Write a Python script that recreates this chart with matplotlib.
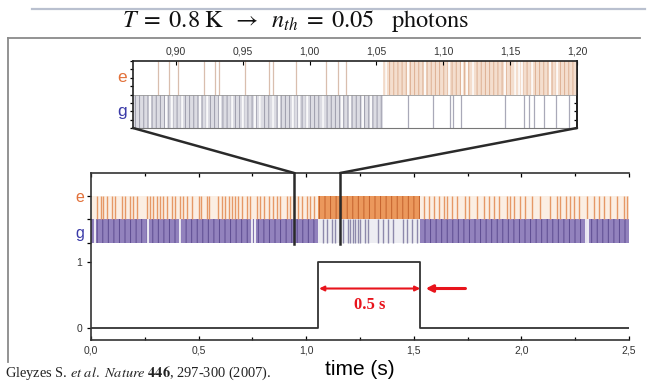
import matplotlib
matplotlib.use("Agg")
import matplotlib.pyplot as plt
from matplotlib.ticker import FuncFormatter, MultipleLocator
from matplotlib.patches import ConnectionPatch
from matplotlib.lines import Line2D

plt.rcParams['font.family'] = ['Liberation Sans', 'DejaVu Sans']
plt.rcParams['mathtext.fontset'] = 'stix'
plt.rcParams['hatch.linewidth'] = 0.7

# ---------------- data ----------------
# quantum jump: ground -> excited -> ground
jump_times = [1.056, 1.53]
step_t = [0.0, 1.056, 1.53, 2.5]
step_v = [0, 1, 0, 0]

# main panel: isolated "e" detections during ground periods
main_e_times = [0.029, 0.045, 0.057, 0.073, 0.096, 0.112, 0.143, 0.158, 0.181, 0.197,
                0.216, 0.259, 0.274, 0.290, 0.305, 0.321, 0.336, 0.355, 0.375, 0.391,
                0.414, 0.426, 0.445, 0.468, 0.504, 0.510, 0.538, 0.549, 0.592, 0.608,
                0.623, 0.639, 0.654, 0.670, 0.685, 0.701, 0.724, 0.740, 0.771, 0.786,
                0.805, 0.825, 0.848, 0.864, 0.879, 0.910, 0.926, 0.941, 0.964, 0.980,
                1.003, 1.019, 1.037,
                1.546, 1.569, 1.592, 1.615, 1.639, 1.654, 1.678, 1.701, 1.740, 1.755,
                1.794, 1.825, 1.848, 1.871, 1.894, 1.933, 1.949, 1.964, 1.995, 2.019,
                2.050, 2.088, 2.135, 2.166, 2.181, 2.205, 2.228, 2.243, 2.267, 2.305,
                2.336, 2.360, 2.383, 2.414, 2.445, 2.476, 2.492]
# main panel: isolated "g" detections during the excited period
main_g_times = [1.079, 1.098, 1.121, 1.135, 1.172, 1.195, 1.205, 1.219, 1.228, 1.242,
                1.251, 1.274, 1.288, 1.335, 1.358, 1.381, 1.405, 1.451, 1.470, 1.493, 1.516]
# visible white gaps in the dense g band
main_g_gaps = [0.02, 0.265, 0.415, 0.75, 0.76, 2.30, 2.31]

# inset (zoom 0.868 - 1.20 s)
inset_xlim = [0.868, 1.20]
inset_jump = 1.055
inset_e_times = [0.887, 0.895, 0.902, 0.921, 0.929, 0.932, 0.952, 0.970, 0.973, 0.990,
                 1.012, 1.021, 1.027]
inset_g_times = [1.074, 1.092, 1.105, 1.107, 1.113, 1.146, 1.160, 1.164, 1.168, 1.175,
                 1.184, 1.194]
inset_g_gaps = [0.881, 0.893, 0.897, 0.905, 0.918, 0.923, 0.933, 0.942, 0.950, 0.959,
                0.963, 0.973, 0.977, 0.988, 0.992, 0.998, 1.010, 1.024, 1.030, 1.040, 1.046]
inset_e_gaps = [1.057, 1.074, 1.086, 1.104, 1.114, 1.118, 1.122, 1.146, 1.154, 1.157,
                1.159, 1.166, 1.180, 1.185]

zoom_marks = [0.944, 1.158]
main_ticks = [0.0, 0.5, 1.0, 1.5, 2.0, 2.5]
inset_ticks = [0.90, 0.95, 1.00, 1.05, 1.10, 1.15, 1.20]

arrow_span = [1.06, 1.53]
arrow_side = [1.74, 1.555]

# ---------------- styles ----------------
RED = '#e8141c'
DARK = '#2a2a2a'
G_ROW = (1.29, 1.65)
E_ROW = (1.65, 2.0)

W, H = 656, 382
fig = plt.figure(figsize=(W / 100, H / 100), dpi=100)


def fx(px):
    return px / W


def fy(py):
    return 1 - py / H


# decorative slide lines
fig.add_artist(Line2D([fx(32), fx(645)], [fy(9), fy(9)], color='#b9c0cf', lw=1.6))
fig.add_artist(Line2D([fx(8), fx(640)], [fy(38), fy(38)], color='#8a8a8a', lw=1.3))
fig.add_artist(Line2D([fx(8), fx(8)], [fy(38), fy(362)], color='#8a8a8a', lw=1.3))

fig.text(fx(295), fy(21),
         r"$T\;=\;0.8\ \mathrm{K}\;\;\rightarrow\;\;n_{th}\;=\;0.05\ \ \ \mathrm{photons}$",
         ha='center', va='center', fontsize=17.5, color='#111')

# ---------------- main axes ----------------
ax = fig.add_axes([fx(91), fy(340), fx(629) - fx(91), fy(173) - fy(340)])
ax.set_xlim(main_ticks[0], main_ticks[-1])
ax.set_ylim(-0.18, 2.35)

ground = [(step_t[0], jump_times[0]), (jump_times[1], step_t[-1])]
excited = [(jump_times[0], jump_times[1])]
for a, b in ground:
    ax.fill_between([a, b], G_ROW[0], G_ROW[1], facecolor='#9282bd', hatch='|||',
                    edgecolor='#5d4c90', lw=0)
    ax.fill_between([a, b], E_ROW[0], E_ROW[1], facecolor='#fbeee3', lw=0)
for a, b in excited:
    ax.fill_between([a, b], E_ROW[0], E_ROW[1], facecolor='#eb985c', hatch='|||',
                    edgecolor='#c4622c', lw=0)
    ax.fill_between([a, b], G_ROW[0], G_ROW[1], facecolor='#ededf2', lw=0)

ax.vlines(main_e_times, E_ROW[0], E_ROW[1], color='#e69866', lw=1.0)
ax.vlines(main_g_gaps, G_ROW[0], G_ROW[1], color='white', lw=1.2)
ax.vlines(main_g_times, G_ROW[0], G_ROW[1], color='#8d89ab', lw=1.0)

ax.step(step_t, step_v, where='post', color='#333', lw=1.3)

ax.annotate('', xy=(arrow_span[1], 0.6), xytext=(arrow_span[0], 0.6),
            arrowprops=dict(arrowstyle='<|-|>', color=RED, lw=1.5, mutation_scale=7,
                            shrinkA=0, shrinkB=0))
ax.annotate('', xy=(arrow_side[1], 0.6), xytext=(arrow_side[0], 0.6),
            arrowprops=dict(arrowstyle='-|>', color=RED, lw=2.2, mutation_scale=10,
                            shrinkA=0, shrinkB=0))
ax.text(sum(arrow_span) / 2, 0.35, '0.5 s', color=RED, fontsize=12, fontweight='bold',
        family='Liberation Serif', ha='center', va='center')

ax.set_xticks(main_ticks)
ax.xaxis.set_minor_locator(MultipleLocator(0.25))
ax.xaxis.set_major_formatter(FuncFormatter(lambda v, p: f"{v:.1f}".replace('.', ',')))
ax.set_yticks([0, 1, G_ROW[0], G_ROW[1], E_ROW[1]])
ax.set_yticklabels(['0', '1', '', '', ''])
ax.tick_params(axis='x', which='both', direction='in', top=True, labelsize=7.5,
               labelcolor='#333', length=3, width=0.9, pad=4)
ax.tick_params(axis='x', which='minor', length=2)
ax.tick_params(axis='y', direction='out', labelsize=7.5, labelcolor='#333', length=3, width=0.9)
ax.spines['right'].set_visible(False)
for s in ['top', 'left', 'bottom']:
    ax.spines[s].set_linewidth(1.2)
    ax.spines[s].set_color('#333')
ax.set_xlabel('time (s)', fontsize=15, labelpad=3)

ax.text(-0.021, 1.98, 'e', transform=ax.get_yaxis_transform(), color='#e2713a',
        fontsize=11.5, ha='center', va='center')
ax.text(-0.021, 1.44, 'g', transform=ax.get_yaxis_transform(), color='#3a3aa8',
        fontsize=11.5, ha='center', va='center')

# ---------------- inset ----------------
axins = fig.add_axes([fx(133), fy(128), fx(577) - fx(133), fy(61) - fy(128)])
axins.set_xlim(*inset_xlim)
axins.set_ylim(0, 2)
axins.fill_between([inset_xlim[0], inset_jump], 0, 1, facecolor='#dcdce3', hatch='||||',
                   edgecolor='#9c9cab', lw=0)
axins.fill_between([inset_jump, inset_xlim[1]], 1, 2, facecolor='#f4dece', hatch='||||',
                   edgecolor='#ddb093', lw=0)
axins.vlines(inset_g_gaps, 0, 1, color='white', lw=1.2)
axins.vlines(inset_e_gaps, 1, 2, color='white', lw=1.2)
axins.vlines(inset_e_times, 1, 2, color='#d9beae', lw=0.9)
axins.vlines(inset_g_times, 0, 1, color='#a9a9b8', lw=0.9)
axins.axhline(1, color='#999', lw=0.6)

axins.set_xticks(inset_ticks)
axins.xaxis.set_major_formatter(FuncFormatter(lambda v, p: f"{v:.2f}".replace('.', ',')))
axins.xaxis.tick_top()
axins.tick_params(axis='x', direction='in', labelsize=7.5, labelcolor='#333', length=3, pad=3)
axins.set_yticks([0, 1, 2])
axins.yaxis.set_minor_locator(MultipleLocator(0.25))
axins.tick_params(axis='y', which='both', direction='out', labelleft=False, length=2.5, width=0.9)
sec = axins.secondary_yaxis('right')
sec.set_yticks([0, 1, 2])
sec.yaxis.set_minor_locator(MultipleLocator(0.25))
sec.tick_params(axis='y', which='both', direction='in', labelright=False, length=2.5, width=0.9)
sec.spines['right'].set_linewidth(1.2)
for s in ['top', 'left', 'right']:
    axins.spines[s].set_linewidth(1.2)
    axins.spines[s].set_color('#222')
axins.spines['bottom'].set_color('#777')

axins.text(-0.025, 0.75, 'e', transform=axins.transAxes, color='#e2713a', fontsize=12.5,
           ha='center', va='center')
axins.text(-0.025, 0.24, 'g', transform=axins.transAxes, color='#3a3aa8', fontsize=12.5,
           ha='center', va='center')

# connectors
for corner, t in zip([0, 1], zoom_marks):
    con = ConnectionPatch(xyA=(corner, 0), coordsA=axins.transAxes,
                          xyB=(t, ax.get_ylim()[1]), coordsB=ax.transData,
                          color=DARK, lw=1.8)
    fig.add_artist(con)
    ax.plot([t, t], [ax.get_ylim()[1], 1.27], color=DARK, lw=1.8, clip_on=False, zorder=5)

fig.text(fx(5), fy(373),
         r"Gleyzes S. $\mathit{et\ al.\ Nature}$ $\mathbf{446}$, 297-300 (2007).",
         family='Liberation Serif', fontsize=10.4, ha='left', va='center', color='#222')

fig.savefig('out.png', dpi=100)
